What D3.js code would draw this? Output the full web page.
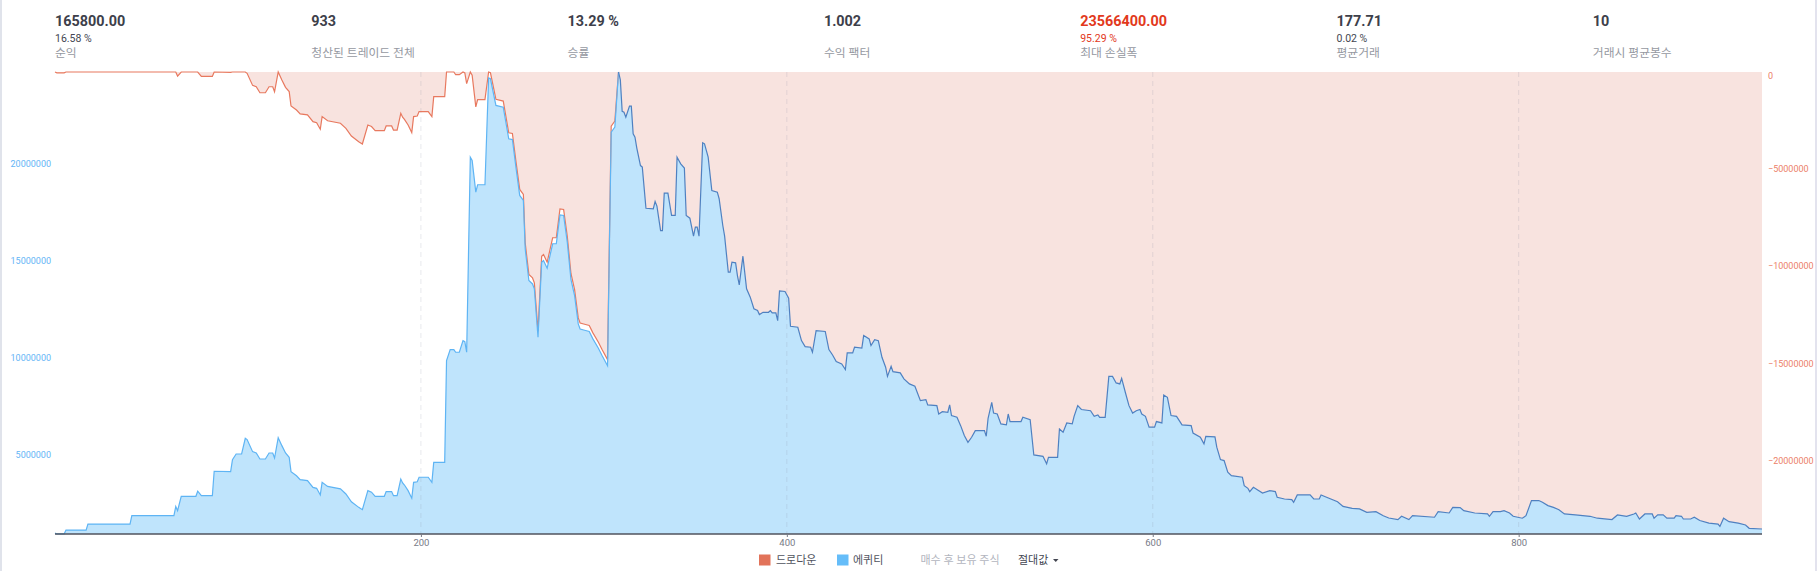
<!DOCTYPE html>
<html><head><meta charset="utf-8">
<script src="https://cdn.jsdelivr.net/npm/d3@7"></script>
<style>
html,body{margin:0;padding:0;background:#fff;}
svg{display:block;font-family:Roboto,"Noto Sans CJK KR",sans-serif;}
</style></head><body>
<svg id="c" width="1817" height="571"></svg>
<script>
// ---------- data ----------
const trades = [0,1,5,6,17,18,41,42,65,66,67,69,77,78,80,86,87,96,97,99,102,104,105,108,110,112,115,117,119,120,122,124,126,128,129,132,134,138,141,143,145,146,149,156,159,162,166,168,171,173,175,180,181,184,185,187,189,190,191,193,195,196,198,199,204,206,207,213,214,216,218,219,221,223,224,225,227,228,230,231,235,237,238,241,245,248,250,252,254,256,257,259,261,262,264,266,267,269,272,274,276,278,280,282,284,286,287,290,292,294,297,299,302,304,306,308,309,310,311,312,314,315,316,317,318,320,321,323,327,328,329,331,332,333,335,337,339,340,342,344,345,347,349,350,351,352,354,355,357,359,362,363,365,366,368,369,370,372,373,374,376,378,380,382,384,385,387,390,391,392,394,395,396,399,401,402,406,408,410,413,414,416,421,423,425,427,430,432,433,436,437,441,442,445,446,448,450,452,454,455,457,458,462,464,467,470,473,476,477,482,483,485,488,489,490,493,495,497,499,501,503,508,509,510,512,513,515,517,520,521,522,528,529,533,535,540,542,543,548,549,551,553,556,557,559,561,566,568,570,571,574,576,578,580,582,583,585,587,589,591,593,594,596,598,601,602,605,606,608,610,613,616,621,622,626,628,629,634,635,637,639,641,643,649,650,652,653,655,660,664,667,668,672,676,677,679,686,688,691,692,695,701,704,709,713,717,722,726,729,734,736,740,742,754,756,762,764,768,770,776,783,784,786,790,792,795,797,802,804,807,811,813,816,819,822,825,831,839,843,851,854,859,863,864,866,869,873,874,876,879,881,885,886,889,890,894,896,899,904,909,910,912,915,920,924,926,933];
const equity = [950000,910000,910000,1110000,1110000,1420000,1420000,1850000,1850000,2320000,2110000,2850000,2850000,3110000,2880000,2880000,4140000,4120000,4740000,5030000,5030000,5840000,5770000,5150000,5080000,4770000,4770000,5080000,5080000,4820000,5870000,5460000,5080000,4860000,4120000,3910000,3710000,3660000,3310000,3260000,2920000,3570000,3360000,3230000,2970000,2570000,2280000,2160000,3140000,3060000,2850000,2850000,3090000,3090000,2880000,2880000,3740000,3540000,3430000,3140000,2750000,3570000,3600000,3830000,3830000,3570000,4600000,4600000,9840000,10410000,10410000,10270000,10270000,10870000,10820000,10270000,20320000,20150000,18520000,18900000,18900000,24400000,24360000,22990000,22900000,21270000,21230000,19760000,18350000,18090000,15600000,13970000,13790000,13540000,11040000,14910000,15000000,14600000,15860000,15860000,17350000,17320000,15940000,14020000,13190000,11730000,11470000,11390000,11340000,10960000,10480000,10100000,9580000,21610000,21870000,24710000,24300000,22680000,22640000,22380000,22950000,22950000,21530000,21350000,20790000,19890000,19810000,17690000,17660000,18040000,17800000,16540000,16540000,18470000,18470000,17320000,17320000,20320000,19980000,19760000,17320000,17180000,16250000,16720000,16720000,16250000,21060000,21010000,20320000,18600000,18520000,18180000,16800000,16250000,14400000,14400000,14910000,14880000,14220000,13740000,15220000,13540000,13110000,12510000,12420000,12210000,12330000,12330000,12420000,12300000,12300000,11900000,13430000,13400000,13060000,11610000,11560000,10870000,10560000,10530000,10270000,11390000,11340000,10410000,10130000,9790000,9670000,9380000,10240000,10240000,10530000,10480000,11130000,10960000,10620000,10920000,10870000,10010000,9500000,9030000,9550000,9270000,9210000,8900000,8640000,8520000,7780000,7830000,7560000,7520000,7090000,7210000,7180000,7560000,7010000,6920000,6490000,5980000,5630000,5890000,6230000,6230000,5940000,6870000,7690000,7140000,7090000,6580000,6530000,7090000,6700000,6700000,6920000,6800000,4980000,4910000,4520000,4860000,4860000,6320000,6150000,6630000,6580000,6970000,7520000,7320000,7260000,6970000,7040000,6920000,6920000,9030000,9030000,8690000,8640000,8930000,8210000,7520000,7140000,7260000,7320000,7090000,6970000,6410000,6410000,6700000,6630000,8070000,7950000,7010000,6970000,6530000,6490000,6110000,5890000,5550000,5940000,5910000,5380000,4740000,4690000,4090000,3910000,3830000,3400000,3260000,3090000,3310000,3020000,3140000,3090000,2800000,2710000,2680000,2540000,2920000,2920000,2710000,2710000,2920000,2800000,2570000,2330000,2230000,2200000,2020000,2060000,1850000,1730000,1650000,1820000,1650000,1850000,1770000,2060000,1990000,2280000,2270000,2110000,1990000,1940000,1820000,2060000,2060000,2110000,1990000,1820000,1720000,1850000,2630000,2630000,2540000,2370000,2280000,2160000,1940000,1890000,1820000,1720000,1650000,1890000,1820000,1940000,1990000,1680000,1940000,1940000,1720000,1890000,1890000,1720000,1720000,1850000,1820000,1680000,1680000,1770000,1600000,1470000,1420000,1300000,1720000,1540000,1470000,1370000,1200000,1165800];

const xTicks = [200, 400, 600, 800];
const equityTicks = [5000000, 10000000, 15000000, 20000000];
const drawdownTicks = [0, -5000000, -10000000, -15000000, -20000000];

const statValues = ["165800.00", "933", "13.29 %", "1.002", "23566400.00", "177.71", "10"];
const statSubs   = ["16.58 %", "", "", "", "95.29 %", "0.02 %", ""];
const statLabels = ["순익", "청산된 트레이드 전체", "승률", "수익 팩터", "최대 손실폭", "평균거래", "거래시 평균봉수"];
const legendLabels = ["드로다운", "에퀴티", "매수 후 보유 주식", "절대값"];

// ---------- layout ----------
const svg = d3.select("#c");
const P = {left: 55, right: 1762, top: 72, bottom: 534};
const eqMin = 907000, eqMax = 24710000;
const x  = d3.scaleLinear().domain([0, 933]).range([P.left, P.right]);
const yE = d3.scaleLinear().domain([eqMin, eqMax]).range([P.bottom, P.top]);
const yD = d3.scaleLinear().domain([-(eqMax - eqMin), 0]).range([P.bottom, P.top]);

const data = trades.map((t, i) => ({t, e: equity[i]}));
let run = -Infinity, peakIdx = 0;
data.forEach((d, i) => { if (d.e > run) { run = d.e; peakIdx = i; } d.dd = d.e - run; });

// side strips
svg.append("rect").attr("x",0).attr("y",0).attr("width",2).attr("height",571).attr("fill","#e0e3eb");
svg.append("rect").attr("x",1815).attr("y",0).attr("width",2).attr("height",571).attr("fill","#e3e3ee");

// drawdown area (from top)
svg.append("path").datum(data)
  .attr("d", d3.area().x(d => x(d.t)).y0(P.top).y1(d => yD(d.dd)))
  .attr("fill", "#f8e3df");
// equity area
svg.append("path").datum(data)
  .attr("d", d3.area().x(d => x(d.t)).y0(P.bottom).y1(d => yE(d.e)))
  .attr("fill", "#bfe4fc");

// grid
svg.append("g").selectAll("line").data(xTicks).join("line")
  .attr("x1", d => x(d)).attr("x2", d => x(d))
  .attr("y1", P.top).attr("y2", P.bottom)
  .attr("stroke", "rgba(140,145,165,0.2)").attr("stroke-dasharray", "5,4");

// lines
const before = data.slice(0, peakIdx + 1), after = data.slice(peakIdx);
svg.append("path").datum(before)
  .attr("d", d3.line().x(d => x(d.t)).y(d => yD(d.dd)))
  .attr("fill", "none").attr("stroke", "#e8795f").attr("stroke-width", 1.2);
svg.append("path").datum(before)
  .attr("d", d3.line().x(d => x(d.t)).y(d => yE(d.e)))
  .attr("fill", "none").attr("stroke", "#5eb4f4").attr("stroke-width", 1.2);
svg.append("path").datum(after)
  .attr("d", d3.line().x(d => x(d.t)).y(d => yE(d.e)))
  .attr("fill", "none").attr("stroke", "#4f80c0").attr("stroke-width", 1.2);

// baseline
svg.append("line").attr("x1", P.left).attr("x2", P.right).attr("y1", P.bottom).attr("y2", P.bottom)
  .attr("stroke", "#50535e").attr("stroke-width", 1.5);

// x axis
const gx = svg.append("g").attr("transform", `translate(0,${P.bottom})`)
  .call(d3.axisBottom(x).tickValues(xTicks).tickSize(3).tickPadding(2).tickFormat(d3.format("d")));
gx.select(".domain").remove();
gx.selectAll("line").attr("stroke", "#787b86");
gx.selectAll("text").attr("fill", "#787b86").style("font-size", "9.5px").style("font-family", "Roboto");

// left axis (equity)
const gl = svg.append("g").attr("transform", `translate(51,0)`)
  .call(d3.axisLeft(yE).tickValues(equityTicks).tickSize(0).tickPadding(0).tickFormat(d3.format("d")));
gl.select(".domain").remove();
gl.selectAll("text").attr("fill", "#64b5f6").style("font-size", "9px").style("font-family", "Roboto");

// right axis (drawdown)
const gr = svg.append("g").attr("transform", `translate(1768,0)`)
  .call(d3.axisRight(yD).tickValues(drawdownTicks).tickSize(0).tickPadding(0).tickFormat(d3.format("d")));
gr.select(".domain").remove();
gr.selectAll("text").attr("fill", "#ec8069").style("font-size", "9px").style("font-family", "Roboto");
gr.selectAll(".tick").filter(d => d === 0).attr("transform", `translate(0,${yD(0) + 4})`);

// stats header
const colX = i => 55 + i * 256.3;
const st = svg.append("g");
statValues.forEach((v, i) => {
  const red = i === 4;
  st.append("text").attr("x", colX(i)).attr("y", 26).text(v)
    .attr("fill", red ? "#e2391c" : "#3d404a").style("font-size", "14.4px").style("font-weight", "bold");
  if (statSubs[i]) st.append("text").attr("x", colX(i)).attr("y", 41.5).text(statSubs[i])
    .attr("fill", red ? "#e2391c" : "#434651").style("font-size", "10.5px");
  st.append("text").attr("x", colX(i)).attr("y", 57).text(statLabels[i])
    .attr("fill", "#9598a1").style("font-size", "11.8px");
});

// legend
const lg = svg.append("g").style("font-size", "11px");
lg.append("rect").attr("x", 759).attr("y", 554.5).attr("width", 11.5).attr("height", 11).attr("fill", "#e2735a");
lg.append("text").attr("x", 776).attr("y", 564).text(legendLabels[0]).attr("fill", "#50535e");
lg.append("rect").attr("x", 837).attr("y", 554.5).attr("width", 11.5).attr("height", 11).attr("fill", "#65bdf9");
lg.append("text").attr("x", 853).attr("y", 564).text(legendLabels[1]).attr("fill", "#50535e");
lg.append("text").attr("x", 920.5).attr("y", 564).text(legendLabels[2]).attr("fill", "#b2b5be");
lg.append("text").attr("x", 1018).attr("y", 564).text(legendLabels[3]).attr("fill", "#434651");
lg.append("path").attr("d", "M1053,559 L1058.5,559 L1055.75,562 Z").attr("fill", "#434651");
</script>
</body></html>
